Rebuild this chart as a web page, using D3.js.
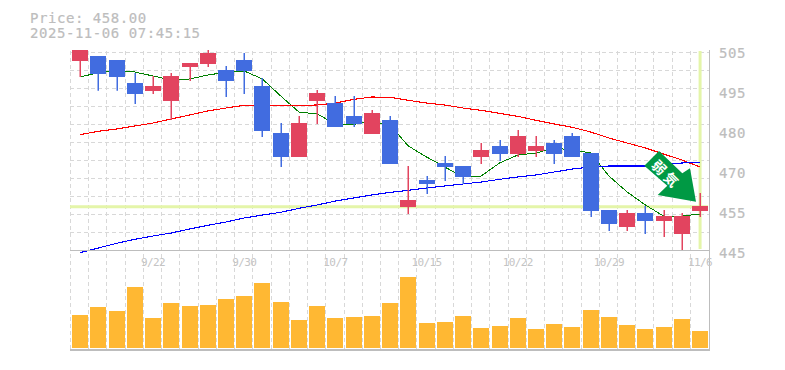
<!DOCTYPE html>
<html>
<head>
<meta charset="utf-8">
<script src="https://cdnjs.cloudflare.com/ajax/libs/d3/7.8.5/d3.min.js"></script>
<style>
  html, body { margin: 0; padding: 0; background: #fff; }
  #chart { width: 785px; height: 370px; }
  text { font-family: "DejaVu Sans Mono", monospace; fill: #bdbdbd; }
</style>
</head>
<body>
<div id="chart"></div>
<script>
const dates = ["9/16","9/17","9/18","9/19","9/22","9/24","9/25","9/26","9/29","9/30",
  "10/1","10/2","10/3","10/6","10/7","10/8","10/9","10/10","10/14","10/15",
  "10/16","10/17","10/20","10/21","10/22","10/23","10/24","10/27","10/28","10/29",
  "10/30","10/31","11/4","11/5","11/6"];
const dateTicks = ["9/22","9/30","10/7","10/15","10/22","10/29","11/6"];

const open = [501.7,503.2,502,495.1,492.7,489.7,499.9,500.8,499,502,
  494.2,480.1,472.9,489.7,489.1,485.2,479.8,484,457.9,466,
  471.1,470.2,472.9,476.2,473.8,474.7,477.1,479.2,474.1,457,
  451.9,456.1,453.7,449.8,456.7];
const close = [505,497.8,496.9,491.8,494.2,497.2,501.1,504.1,495.7,498.7,
  480.8,472.9,483.1,492.1,481.9,482.8,486.1,470.8,460,464.8,
  469.9,466.9,475,473.8,479.2,476.2,473.8,472.9,456.7,452.8,
  456.1,453.7,455.2,455.2,458.2];
const high = [505,503.2,502,498.1,497.2,498.1,501.1,505,500.2,504.1,
  496.6,483.1,485.2,493,491.2,491.2,487,485.2,470.2,467.2,
  473.2,470.2,477.1,478,481,479.2,478,480.1,474.1,457,
  457,458.2,457,456.1,462.1];
const low = [496.9,492.8,492.8,488.8,491.8,484,495.7,499.9,490.9,491.8,
  478.9,469.9,472.9,482.8,481.9,481.9,479.8,470.8,455.8,461.8,
  465.7,464.8,470.8,471.7,472.9,472.9,470.8,472.9,454.9,450.7,
  450.7,449.8,448.9,445,454.9];

const maShort = [496.9,498.2,498.7,498.4,497.2,496,496.3,497.5,498.3,498.7,
  496.3,491.2,486.4,485.8,482.8,482.7,483.6,482.5,476.2,472.9,
  469.9,466.9,467.2,471.1,473.5,474.1,475.6,475,474.1,467.2,
  462.4,458.5,455.2,455.2,455.8];
const maMid = [479.6,480.6,481.3,482.2,483.1,484.3,485.5,486.7,487.6,488.4,
  488.5,488.4,488.4,488.5,489.1,490.2,490.9,490.8,489.9,489.1,
  488.5,487.6,486.9,486,485.1,483.9,482.8,481.8,480.4,478.6,
  477.1,475.6,473.8,472,469.9];
const maLong = [444.2,445.6,447,448.2,449.2,450.1,451.3,452.4,453.4,454.6,
  455.5,456.3,457.5,458.5,459.7,460.6,461.5,462.3,462.9,463.6,
  464.2,464.8,465.4,466.2,466.9,467.5,468.4,469.3,469.9,470.2,
  470.2,470.2,470.7,471.1,471.3];

const volume = [33,41,37,61,30,45,42,43,49,52,
  65,46,28,42,30,31,32,45,71,25,
  26,32,20,22,30,19,24,21,38,31,
  23,19,21,29,17];

const lastPrice = 458;
const priceTicks = [505,493,481,469,457,445];
const priceTickLabels = ["505","495","480","470","455","445"];
const gridPrices = [450.4,455.8,461.2,466.6,472,477.4,482.8,488.2,493.6,499,504.4];

const width = 785, height = 370;
const svg = d3.select("#chart").append("svg")
  .attr("width", width)
  .attr("height", height)
  .style("display", "block");

// scales
const xScale = d3.scaleBand().domain(dates).range([71, 709.2]);
const xMid = d => xScale(d) + xScale.bandwidth() / 2;
const yScale = d3.scaleLinear().domain([445, 505]).range([250, 50]);
const volScale = d3.scaleLinear().domain([0, 71]).range([348, 277]);

const gridColor = "#d8d8d8", axisColor = "#bdbdbd", markColor = "#e4f5a9";
const upColor = "#e2445f", downColor = "#416ce0";

// grid
svg.append("g").selectAll("line")
  .data(dates)
  .join("line")
    .attr("x1", d => Math.round(xScale(d)) - 0.5)
    .attr("x2", d => Math.round(xScale(d)) - 0.5)
    .attr("y1", 51)
    .attr("y2", 350)
    .attr("stroke", gridColor)
    .attr("stroke-dasharray", "4,3");

svg.append("g").selectAll("line")
  .data(gridPrices)
  .join("line")
    .attr("x1", 70)
    .attr("x2", 709)
    .attr("y1", d => Math.round(yScale(d)) + 0.5)
    .attr("y2", d => Math.round(yScale(d)) + 0.5)
    .attr("stroke", gridColor)
    .attr("stroke-dasharray", "4,3");

// current price / current date markers
svg.append("line")
  .attr("x1", 70).attr("x2", 708)
  .attr("y1", yScale(lastPrice)).attr("y2", yScale(lastPrice))
  .attr("stroke", markColor).attr("stroke-width", 3);
svg.append("line")
  .attr("x1", xMid("11/6")).attr("x2", xMid("11/6"))
  .attr("y1", 51).attr("y2", 249)
  .attr("stroke", markColor).attr("stroke-width", 3);

// moving averages
const line = d3.line().x((d, i) => xMid(dates[i])).y(d => yScale(d));
[[maShort, "#008000", 1], [maMid, "#ff0000", 1.1], [maLong, "#0000ff", 1.1]].forEach(function(s) {
  svg.append("path")
    .attr("d", line(s[0]))
    .attr("fill", "none")
    .attr("stroke", s[1])
    .attr("stroke-width", s[2])
    .attr("shape-rendering", "crispEdges");
});

// candles
const candles = svg.append("g");
candles.selectAll("line")
  .data(dates)
  .join("line")
    .attr("x1", d => Math.round(xMid(d)) + 0.25)
    .attr("x2", d => Math.round(xMid(d)) + 0.25)
    .attr("y1", (d, i) => yScale(high[i]))
    .attr("y2", (d, i) => yScale(low[i]))
    .attr("stroke-width", 1.5)
    .attr("stroke", (d, i) => close[i] >= open[i] ? upColor : downColor);
candles.selectAll("rect")
  .data(dates)
  .join("rect")
    .attr("shape-rendering", "crispEdges")
    .attr("x", d => Math.round(xMid(d)) - 8)
    .attr("width", 16)
    .attr("y", (d, i) => yScale(Math.max(open[i], close[i])))
    .attr("height", (d, i) => Math.abs(yScale(open[i]) - yScale(close[i])))
    .attr("fill", (d, i) => close[i] >= open[i] ? upColor : downColor);

// volume
svg.append("g").attr("shape-rendering", "crispEdges").selectAll("rect")
  .data(dates)
  .join("rect")
    .attr("x", d => Math.round(xMid(d)) - 8)
    .attr("width", 16)
    .attr("y", (d, i) => volScale(volume[i]))
    .attr("height", (d, i) => volScale(0) - volScale(volume[i]))
    .attr("fill", "#ffb833");

// frame
svg.append("path")
  .attr("d", "M70,250.5H709.5M709.5,50V350")
  .attr("fill", "none")
  .attr("stroke", axisColor)
  .attr("stroke-width", 1);
svg.append("path")
  .attr("d", "M70,350H710")
  .attr("stroke", axisColor)
  .attr("stroke-width", 2);

// axes
const yAxis = svg.append("g")
  .attr("transform", "translate(709,3)")
  .call(d3.axisRight(yScale)
    .tickValues(priceTicks)
    .tickSize(0)
    .tickPadding(10)
    .tickFormat((d, i) => priceTickLabels[i]));
yAxis.select(".domain").remove();
yAxis.selectAll("text")
  .style("font-family", '"DejaVu Sans Mono", monospace')
  .style("font-size", "14px")
  .style("letter-spacing", "0.6px")
  .style("fill", "#bdbdbd")
  .style("stroke", "#bdbdbd")
  .style("stroke-width", "0.2px");

const xAxis = svg.append("g")
  .attr("transform", "translate(0,255)")
  .call(d3.axisBottom(xScale)
    .tickValues(dateTicks)
    .tickSize(0)
    .tickPadding(3));
xAxis.select(".domain").remove();
xAxis.selectAll("text")
  .style("font-family", '"DejaVu Sans Mono", monospace')
  .style("font-size", "11px")
  .style("letter-spacing", "-0.6px")
  .style("fill", "#c4c4c4");

// header
["Price: 458.00", "2025-11-06 07:45:15"].forEach(function(t, i) {
  svg.append("text")
    .attr("x", 30)
    .attr("y", 23 + i * 15)
    .style("font-size", "14px")
    .style("letter-spacing", "0.55px")
    .style("stroke", "#bdbdbd")
    .style("stroke-width", "0.2px")
    .text(t);
});

// signal arrow
svg.append("polygon")
  .attr("points", "644.3,165.7 659,151 682.3,173.3 690,168.3 696,201.7 657.7,195 667.3,185.7")
  .attr("fill", "#009944");
svg.append("text")
  .attr("transform", "translate(666.7,174) rotate(45)")
  .attr("text-anchor", "middle")
  .attr("dominant-baseline", "central")
  .style("font-family", '"Noto Sans CJK JP"')
  .style("font-size", "14px")
  .style("font-weight", "bold")
  .style("letter-spacing", "3px")
  .style("fill", "#ffffff")
  .text("弱気");
</script>
</body>
</html>
